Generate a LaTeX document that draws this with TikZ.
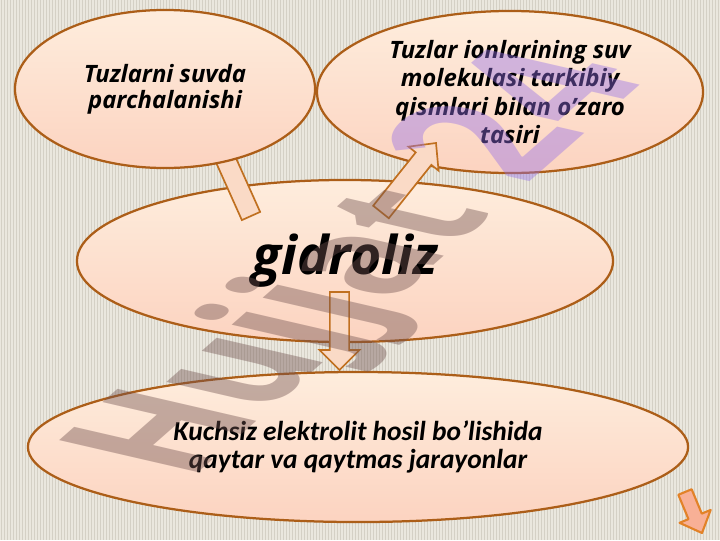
\documentclass[tikz,border=0pt]{standalone}
\usepackage{fontspec}
\setmainfont{Open Sans}
\newfontfamily\calfont{Carlito}
\usepackage{tikz}
\usetikzlibrary{positioning,shapes.geometric,calc}

\definecolor{slidebg}{RGB}{234,231,222}
\definecolor{slideline}{RGB}{212,208,197}
\definecolor{ovaltop}{RGB}{254,237,221}
\definecolor{ovalbot}{RGB}{252,211,192}
\definecolor{ovalrim}{RGB}{172,94,24}
\definecolor{arrfill}{RGB}{250,218,198}
\definecolor{arrrim}{RGB}{192,112,32}
\definecolor{nextfill}{RGB}{248,176,150}
\definecolor{nextrim}{RGB}{226,130,40}
\definecolor{wmgray}{RGB}{113,82,80}
\definecolor{wmpurple}{RGB}{150,112,232}

% block arrow: [style]{tail}{tip}{shaft half width}{head half width}{head length}
\newcommand{\blockarrow}[6][barrow]{%
    \coordinate (hb) at ($(#3)!#6!(#2)$);
    \filldraw[#1] ($(#2)!#4!90:(#3)$) -- ($(hb)!#4!90:(#3)$) -- ($(hb)!#5!90:(#3)$)
        -- (#3) -- ($(hb)!#5!-90:(#3)$) -- ($(hb)!#4!-90:(#3)$) -- ($(#2)!#4!-90:(#3)$) -- cycle;
}

\begin{document}
\begin{tikzpicture}[x=0.025cm, y=-0.025cm,
    oval/.style={ellipse, draw=ovalrim, line width=1.6pt, top color=ovaltop, bottom color=ovalbot,
        inner sep=0pt, align=center},
    barrow/.style={fill=arrfill, draw=arrrim, line width=1.2pt, line join=miter},
    nextarrow/.style={fill=nextfill, draw=nextrim, line width=1.5pt, line join=round}]

    % Slide background with thin stripes
    \useasboundingbox (0,0) rectangle (720,540);
    \fill[slidebg] (0,0) rectangle (720,540);
    \foreach \x in {1,4,...,720}
        \draw[slideline, line width=0.3pt] (\x,0) -- (\x,540);

    % Middle and bottom ellipses
    \node[oval, minimum width=13.4cm, minimum height=4.05cm,
        font=\fontsize{38}{44}\selectfont\bfseries\itshape] (gid) at (345,261) {gidroliz};
    \node[oval, minimum width=16.5cm, minimum height=3.75cm,
        font=\calfont\fontsize{19.5}{20.5}\selectfont\bfseries\itshape] (weak) at (358,447)
        {Kuchsiz elektrolit hosil bo’lishida\\ qaytar va qaytmas jarayonlar};

    % Arrows leaving gidroliz (first one runs under the top-left ellipse)
    \coordinate (gidNW) at (251,216);
    \coordinate (saltin) at (216,138);
    \coordinate (gidS) at (339.5,292);
    \coordinate (weakin) at (339.5,370);
    \blockarrow{gidNW}{saltin}{0.25cm}{0.46cm}{0.5cm}
    \blockarrow{gidS}{weakin}{0.24cm}{0.5cm}{0.5cm}

    % Top ellipses
    \node[oval, minimum width=7.5cm, minimum height=3.95cm,
        font=\fontsize{17}{18.5}\selectfont\bfseries\itshape] (salt) at (165,89)
        {Tuzlarni suvda\\ parchalanishi};
    \node[oval, minimum width=9.65cm, minimum height=4.05cm,
        font=\fontsize{17}{20.2}\selectfont\bfseries\itshape] (ions) at (510,92)
        {Tuzlar ionlarining suv\\ molekulasi tarkibiy\\ qismlari bilan o’zaro\\ tasiri};

    \coordinate (gidNE) at (381,212);
    \coordinate (ionsin) at (436,143);
    \blockarrow{gidNE}{ionsin}{0.25cm}{0.48cm}{0.5cm}

    % Next-slide arrow in the corner
    \coordinate (nexttail) at (685,492);
    \coordinate (nexttip) at (702,533);
    \blockarrow[nextarrow]{nexttail}{nexttip}{0.18cm}{0.42cm}{0.45cm}

    % Watermark
    \begin{scope}[shift={(189,481)}]
        \node[anchor=base west, inner sep=0pt, cm={0.489,0.430,-0.954,0.220,(0,0)}, transform shape,
            font=\fontsize{145}{145}\selectfont\bfseries, text opacity=0.42] (wm) at (0,0)
            {\textcolor{wmgray}{Hujjat}\hspace{0.3em}\textcolor{wmpurple}{\fontsize{160}{160}\selectfont 24}};
    \end{scope}

\end{tikzpicture}
\end{document}
